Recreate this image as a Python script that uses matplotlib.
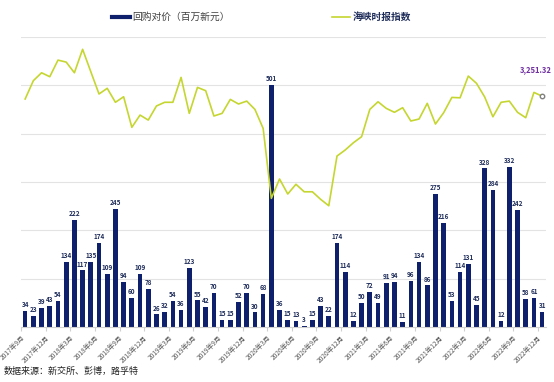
import matplotlib
matplotlib.use("Agg")
import matplotlib.pyplot as plt
from matplotlib.lines import Line2D
import numpy as np

plt.rcParams['font.family'] = ['Noto Sans CJK SC', 'DejaVu Sans']

# monthly buyback consideration (SGD mn), 2017-09 .. 2022-12
buyback = [34, 23, 39, 43, 54, 134, 222, 117, 135, 174, 109, 245, 94, 60, 109, 78,
           26, 32, 54, 36, 123, 55, 42, 70, 15, 15, 52, 70, 30, 68, 501, 36,
           15, 13, 3, 15, 43, 22, 174, 114, 12, 50, 72, 49, 91, 94, 11, 96,
           134, 86, 275, 216, 53, 114, 131, 45, 328, 284, 12, 332, 242, 58, 61, 31]

# Straits Times Index, month end
sti = [3230, 3369, 3429, 3399, 3525, 3510, 3429, 3607, 3437, 3268, 3311, 3205,
       3247, 3015, 3108, 3070, 3177, 3205, 3205, 3394, 3121, 3318, 3293, 3101,
       3121, 3227, 3192, 3214, 3151, 3007, 2476, 2623, 2509, 2583, 2526, 2526,
       2469, 2420, 2797, 2843, 2898, 2944, 3151, 3209, 3159, 3129, 3164, 3063,
       3078, 3197, 3040, 3126, 3242, 3239, 3404, 3349, 3245, 3095, 3205, 3214,
       3129, 3088, 3280, 3251.32]

months = []
for y in range(2017, 2023):
    for m in range(1, 13):
        if (y == 2017 and m < 9):
            continue
        months.append(f"{y}年{m}月")

navy = '#0e1f6b'
green = '#c5d630'

fig = plt.figure(figsize=(5.54, 3.82), dpi=100)
ax = fig.add_axes([0.038, 0.144, 0.948, 0.759])
x = np.arange(len(buyback))

ax.bar(x, buyback, width=0.57, color=navy, zorder=2)
for i, v in enumerate(buyback):
    ax.text(i, v + 6, str(v), ha='center', va='bottom', fontsize=4.6,
            fontweight='bold', color='#1f2d5a')

ax.set_xlim(-0.5, len(buyback) - 0.5)
ax.set_ylim(0, 600)
for s in ['top', 'left', 'right']:
    ax.spines[s].set_visible(False)
ax.spines['bottom'].set_color('#d0d0d0')
ax.spines['bottom'].set_linewidth(0.8)

tick_pos = np.arange(0, len(buyback), 3) - 0.5
ax.set_xticks(tick_pos)
ax.set_xticklabels(months[::3], rotation=45, ha='right', rotation_mode='anchor',
                   fontsize=4.8, color='#595959')
ax.tick_params(axis='x', length=3, color='#d0d0d0', pad=2)

# horizontal gridlines drawn directly
for g in range(100, 601, 100):
    ax.axhline(g, color='#e3e3e3', linewidth=0.8, zorder=0)
ax.set_yticks([])

ax2 = ax.twinx()
ax2.plot(x, sti, color=green, linewidth=1.2, zorder=3)
ax2.plot(x[-1], sti[-1], marker='o', markersize=3.2, markerfacecolor='white',
         markeredgecolor='#808080', markeredgewidth=1.0, zorder=4)
ax2.text(x[-1] - 0.8, sti[-1] + 170, f"{sti[-1]:,.2f}", ha='center', va='bottom',
         fontsize=5.5, fontweight='bold', color='#7030a0')
ax2.set_ylim(1500, 3700)
ax2.set_yticks([])
ax2.axis('off')
ax.set_yticks([])

# legend
handles = [Line2D([0], [0], color=navy, linewidth=3),
           Line2D([0], [0], color=green, linewidth=1.2)]
leg = fig.legend(handles, ['回购对价（百万新元）', '海峡时报指数'], loc='center',
                 bbox_to_anchor=(0.472, 0.955), ncol=2, frameon=False,
                 fontsize=7, handlelength=1.8, columnspacing=10.5, handletextpad=0.3)
leg.get_texts()[0].set_color('#404040')
leg.get_texts()[1].set_color('#1f2d5a')
leg.get_texts()[1].set_fontweight('bold')

fig.text(0.006, 0.028, '数据来源：新交所、彭博，路孚特', fontsize=6.5, color='#222222',
         ha='left', va='center')

fig.savefig('out.png', dpi=100)
